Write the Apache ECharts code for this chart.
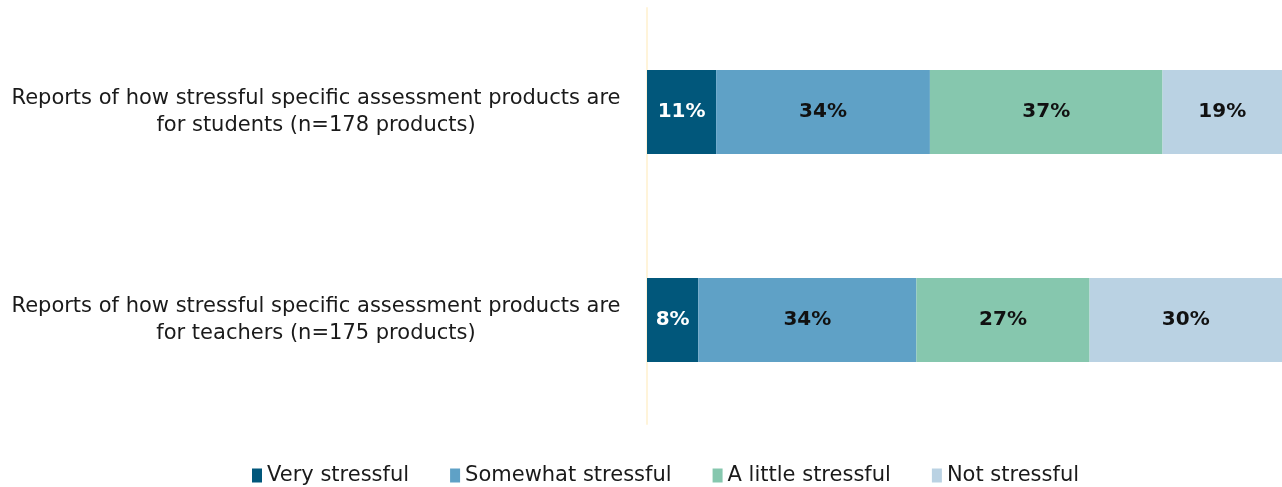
<!DOCTYPE html>
<html>
<head>
<meta charset="utf-8">
<script src="https://cdn.jsdelivr.net/npm/echarts@6/dist/echarts.min.js"></script>
<style>
  html, body { margin: 0; padding: 0; background: #ffffff; }
  #chart { width: 1282px; height: 487px; }
</style>
</head>
<body>
<div id="chart"></div>
<script>
// Survey rows (one horizontal stacked bar each)
const categories = [
  'Reports of how stressful specific assessment products are\nfor students (n=178 products)',
  'Reports of how stressful specific assessment products are\nfor teachers (n=175 products)'
];
const seriesNames = ['Very stressful', 'Somewhat stressful', 'A little stressful', 'Not stressful'];
// Percent shares per row: [students, teachers]
const veryStressful = [11, 8];
const somewhatStressful = [34, 34];
const littleStressful = [37, 27];
const notStressful = [19, 30];

const values = [veryStressful, somewhatStressful, littleStressful, notStressful];
const colors = ['#01577b', '#5fa1c6', '#86c7ae', '#bad2e3'];
const labelColors = ['#ffffff', '#111111', '#111111', '#111111'];
const FONT = '"DejaVu Sans", sans-serif';

const chart = echarts.init(document.getElementById('chart'));

const grids = [], xAxes = [], yAxes = [], series = [];
categories.forEach((cat, row) => {
  // each row fills the full width: axis max is the row total
  const rowTotal = values.reduce((s, arr) => s + arr[row], 0);
  grids.push({ left: 647, right: 0, top: 8 + row * 208, height: 208 });
  xAxes.push({ type: 'value', gridIndex: row, min: 0, max: rowTotal, show: false });
  yAxes.push({
    type: 'category', gridIndex: row, data: [cat], offset: 2,
    axisTick: { show: false },
    axisLine: { show: true, lineStyle: { color: '#fff4da', width: 2 } },
    axisLabel: {
      margin: 18,
      formatter: v => v.split('\n').map(l => '{t|' + l + '}').join('\n'),
      rich: { t: { width: 622, align: 'center', fontSize: 21, lineHeight: 27, color: '#1a1a1a', fontFamily: FONT } }
    }
  });
  values.forEach((arr, i) => {
    series.push({
      name: seriesNames[i], type: 'bar', stack: 'row' + row,
      xAxisIndex: row, yAxisIndex: row,
      barWidth: 84, data: [arr[row]],
      itemStyle: { color: colors[i] },
      label: {
        show: true, position: 'inside', formatter: '{c}%',
        color: labelColors[i], fontSize: 20, fontWeight: 'bold', fontFamily: FONT
      },
      emphasis: { disabled: true }
    });
  });
});

chart.setOption({
  animation: false,
  color: colors,
  legend: {
    data: seriesNames, top: 460, left: 247,
    icon: 'rect', itemWidth: 10, itemHeight: 14, itemGap: 41, itemTextGap: 6,
    textStyle: { fontSize: 21, color: '#1a1a1a', fontFamily: FONT }
  },
  grid: grids, xAxis: xAxes, yAxis: yAxes, series: series
});
</script>
</body>
</html>
